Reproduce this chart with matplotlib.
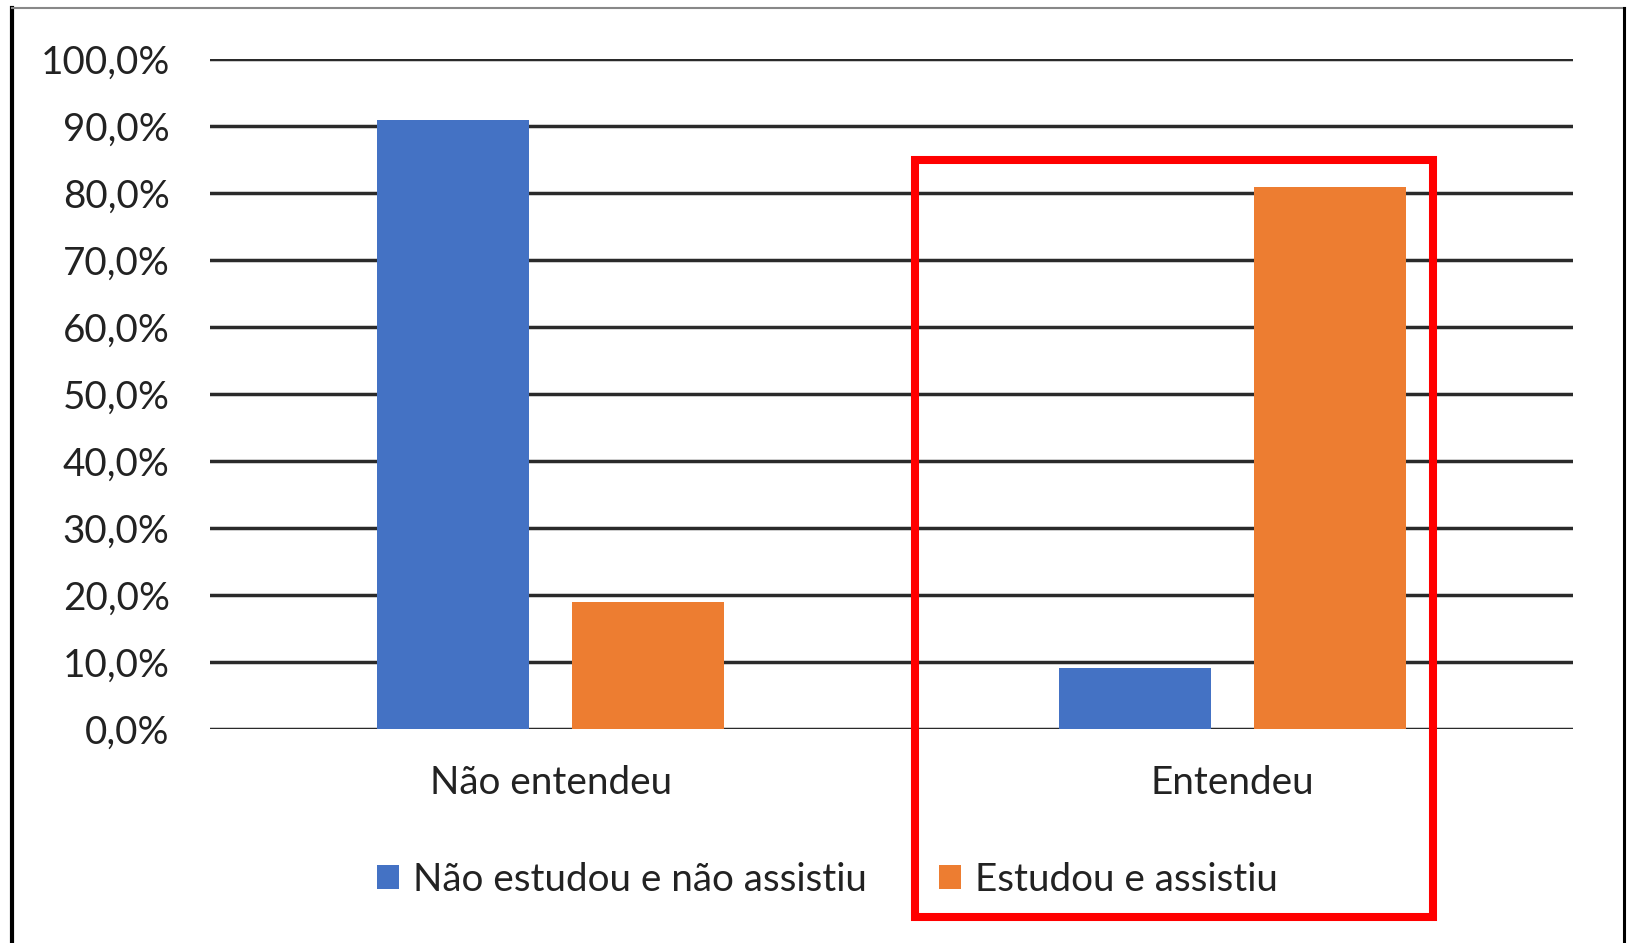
import matplotlib
matplotlib.use("Agg")
import matplotlib.pyplot as plt
from matplotlib.patches import Rectangle, Patch
from matplotlib.lines import Line2D
import numpy as np

categories = ["Não entendeu", "Entendeu"]
series_names = ["Não estudou e não assistiu", "Estudou e assistiu"]
nao_estudou = [91.0, 9.1]
estudou = [19.0, 81.0]
yticks = [0, 10, 20, 30, 40, 50, 60, 70, 80, 90, 100]
ytick_labels = ["0,0%", "10,0%", "20,0%", "30,0%", "40,0%", "50,0%",
                "60,0%", "70,0%", "80,0%", "90,0%", "100,0%"]

BLUE = "#4472C4"
ORANGE = "#ED7D31"
W, H = 1631, 943
FS = 27.8
plt.rcParams['font.family'] = ['Lato', 'DejaVu Sans']

fig = plt.figure(figsize=(W / 100, H / 100), dpi=100)
fig.patch.set_facecolor("white")
ax = fig.add_axes([210 / W, 1 - 729 / H, (1573 - 210) / W, (729 - 59.3) / H])

x = np.arange(len(categories))
bw = 0.223
off = 0.143
ax.bar(x - off, nao_estudou, bw, color=BLUE, zorder=3)
ax.bar(x + off, estudou, bw, color=ORANGE, zorder=3)

ax.set_xlim(-0.5, 1.5)
ax.set_ylim(0, 100)
ax.set_yticks(yticks)
ax.set_yticklabels(ytick_labels)
ax.yaxis.grid(True, color="#2a2a2a", linewidth=2.5, zorder=1)
ax.set_axisbelow(True)
for s in ax.spines.values():
    s.set_visible(False)
ax.tick_params(axis="y", length=0, pad=29, labelsize=FS, labelcolor="#222222")
ax.set_xticks(x)
ax.set_xticklabels(categories)
ax.tick_params(axis="x", length=0, pad=26, labelsize=FS, labelcolor="#222222")

handles = [Patch(facecolor=BLUE), Patch(facecolor=ORANGE)]
fig.legend(handles, series_names, loc="center", bbox_to_anchor=(827 / W, 1 - 880 / H),
           ncol=2, frameon=False, fontsize=FS, handlelength=0.58, handleheight=0.58,
           handletextpad=0.35, columnspacing=1.87, labelcolor="#222222")

# red highlight box
fig.patches.append(Rectangle((915 / W, 1 - 917 / H), (1433 - 915) / W, (917 - 160) / H,
                             transform=fig.transFigure, fill=False, edgecolor="#FF0000",
                             linewidth=5.8, zorder=10))
# outer border
fig.add_artist(Line2D([12.5 / W, 12.5 / W], [0, 1 - 8 / H], color="black", linewidth=3.0, transform=fig.transFigure))
fig.add_artist(Line2D([12 / W, 1625 / W], [1 - 8 / H, 1 - 8 / H], color="#888888", linewidth=1.5, transform=fig.transFigure))
fig.add_artist(Line2D([1624.5 / W, 1624.5 / W], [0, 1 - 8 / H], color="black", linewidth=2.2, transform=fig.transFigure))

fig.savefig("out.png", dpi=100, facecolor="white")
